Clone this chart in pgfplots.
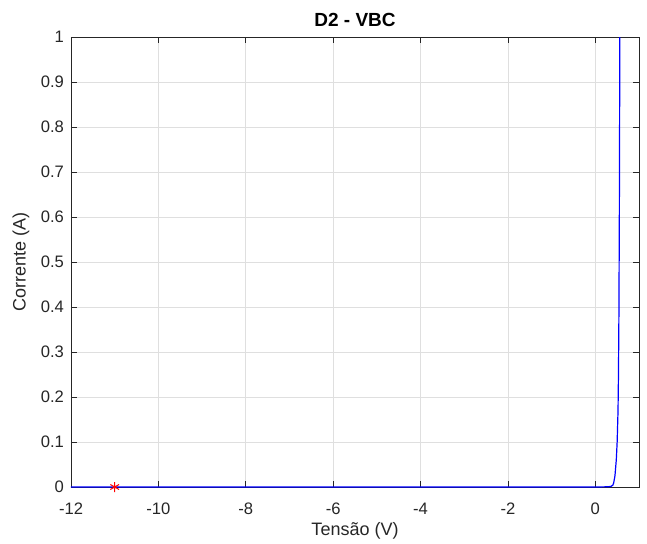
\documentclass[border=0pt]{standalone}
\usepackage{fontspec}
\setmainfont{Liberation Sans}
\usepackage{pgfplots}
\pgfplotsset{compat=1.18}
\definecolor{axgray}{RGB}{38,38,38}
\definecolor{gridgray}{RGB}{223,223,223}
\begin{document}
\begin{tikzpicture}[x=1pt,y=1pt]
\def\px{0.5pt}
\begin{axis}[
  scale only axis,
  width=284pt, height=225pt,
  xmin=-12, xmax=1, ymin=0, ymax=1,
  xtick={-12,-10,...,0},
  ytick={0,0.1,...,1},
  /pgf/number format/assume math mode=true,
  yticklabel style={/pgf/number format/fixed,/pgf/number format/precision=1},
  ticklabel style={font=\fontsize{8.3}{9}\selectfont, text=axgray},
  xticklabel style={yshift=-4.5pt},
  axis line style={axgray, line width=0.4pt},
  major tick style={axgray, line width=0.4pt},
  major tick length=3pt,
  tick align=inside,
  xtick pos=both, ytick pos=both,
  grid=major,
  major grid style={gridgray, line width=0.4pt},
  every axis title shift=0pt,
  title={\textbf{D2 - VBC}},
  title style={font=\fontsize{9.5}{11}\selectfont, text=black,
    at={(axis description cs:0.5,1.038)}, anchor=center},
  xlabel={Tensão (V)},
  ylabel={Corrente (A)},
  label style={font=\fontsize{9}{10}\selectfont, text=axgray},
  xlabel style={at={(axis description cs:0.5,-0.098)}, anchor=center},
  ylabel style={at={(axis description cs:-0.088,0.5)}, anchor=center},
  clip=true,
]
% diode characteristic
\addplot[blue, line width=0.6pt] coordinates {
  (-12,0) (-8,0) (-4,0) (0,0) (0.30,0.0005) (0.36,0.0015) (0.40,0.004)
  (0.42,0.009) (0.45,0.025) (0.48,0.06) (0.50,0.10) (0.52,0.17)
  (0.53,0.25) (0.54,0.38) (0.55,0.60) (0.56,0.95) (0.565,1.2)
};
% operating point
\addplot[only marks, mark=asterisk, red, mark size=2.5pt, mark options={line width=0.5pt}] coordinates {(-11,0)};
\end{axis}
% fixed page frame around the axis
\path (current axis.south west) ++(-71*\px,-56*\px) coordinate (bl);
\path (current axis.north east) ++(8*\px,37*\px) coordinate (tr);
\pgfresetboundingbox
\path[use as bounding box] (bl) rectangle (tr);
\end{tikzpicture}
\end{document}
